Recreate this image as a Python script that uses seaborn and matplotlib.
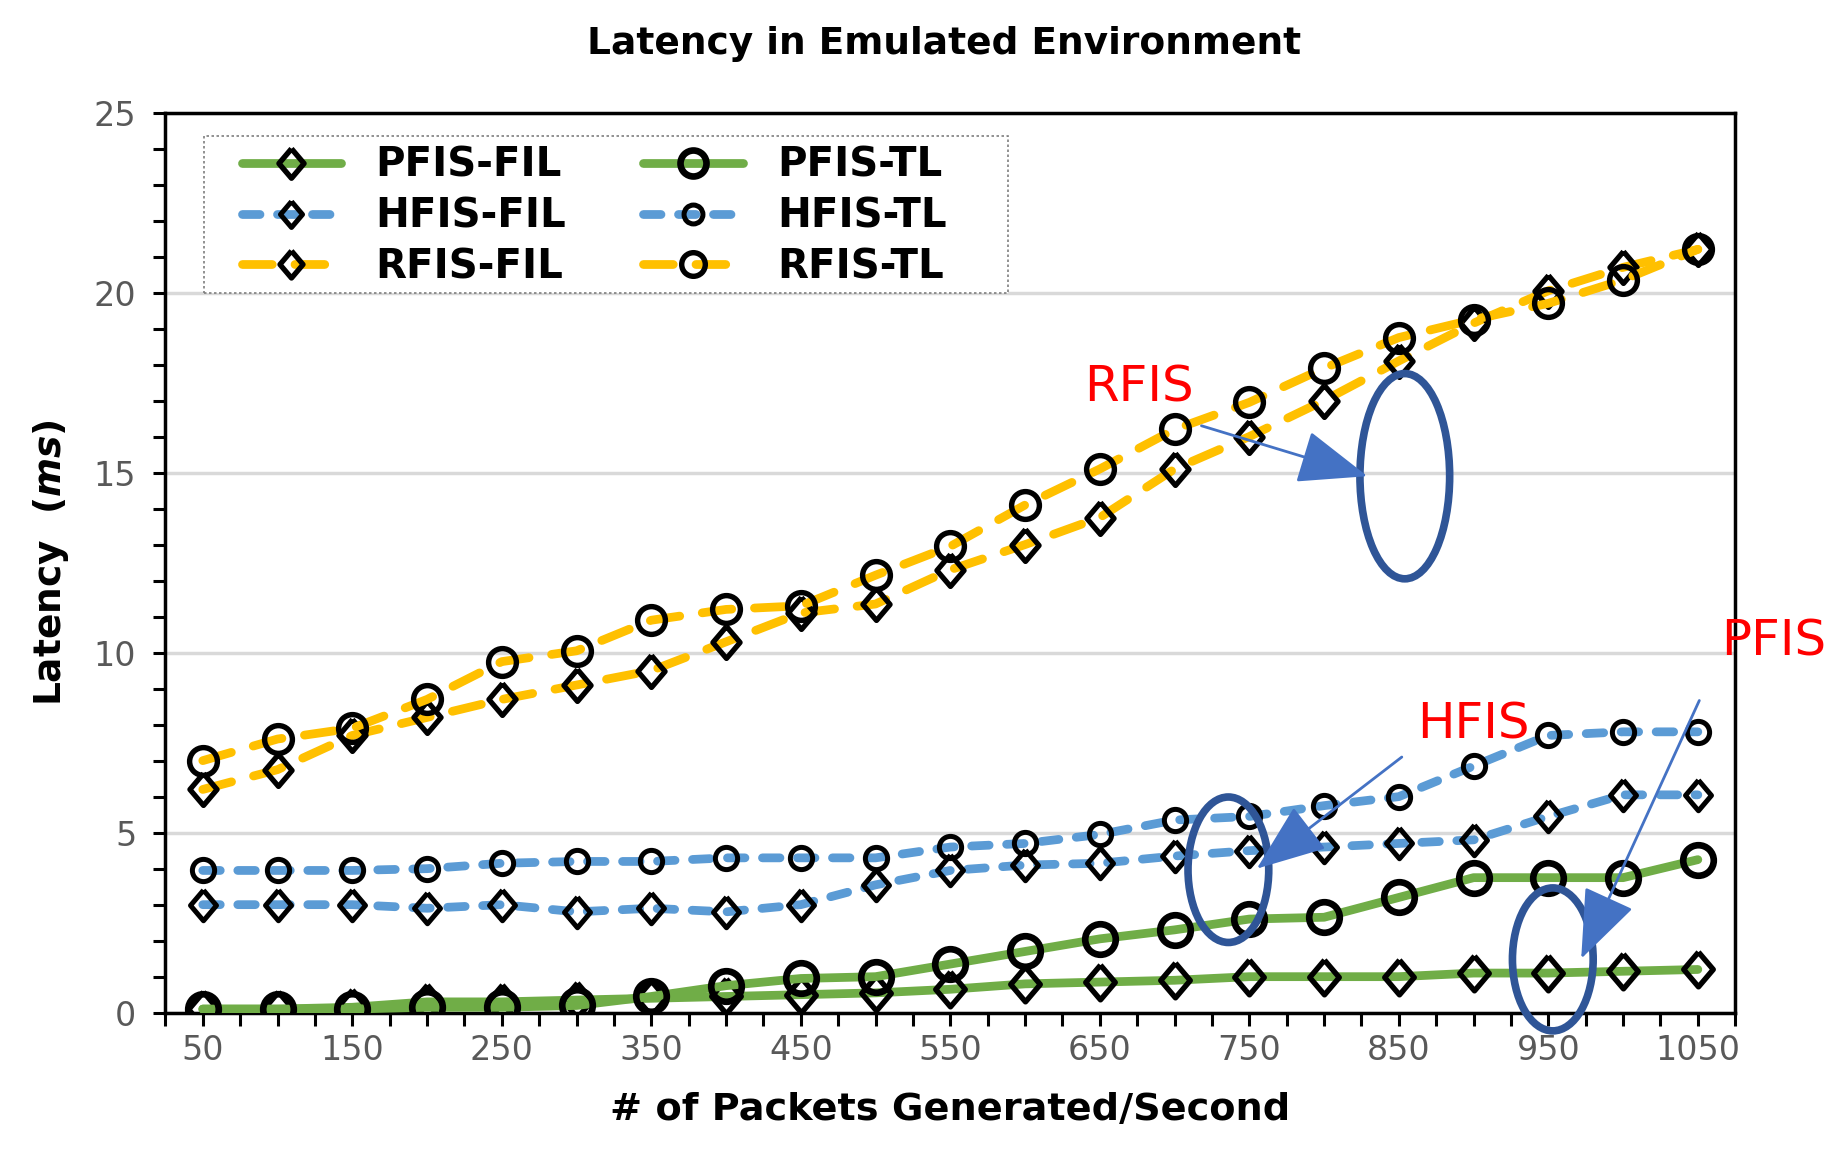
import numpy as np
import pandas as pd
import matplotlib
matplotlib.use("Agg")
import matplotlib.pyplot as plt
import seaborn as sns
from matplotlib.patches import Ellipse, Rectangle
from matplotlib.ticker import FixedLocator, MultipleLocator

# %% data
packets = [50, 100, 150, 200, 250, 300, 350, 400, 450, 500, 550,
           600, 650, 700, 750, 800, 850, 900, 950, 1000, 1050]

pfis_fil = [0.1, 0.1, 0.15, 0.3, 0.3, 0.35, 0.4, 0.45, 0.5, 0.55, 0.65,
            0.8, 0.85, 0.9, 1.0, 1.0, 1.0, 1.1, 1.1, 1.15, 1.2]
pfis_tl = [0.1, 0.1, 0.1, 0.15, 0.15, 0.2, 0.45, 0.75, 0.95, 1.0, 1.35,
           1.7, 2.05, 2.3, 2.6, 2.65, 3.2, 3.75, 3.75, 3.75, 4.25]
hfis_fil = [3.0, 3.0, 3.0, 2.9, 3.0, 2.8, 2.9, 2.8, 3.0, 3.55, 3.95,
            4.1, 4.15, 4.35, 4.5, 4.6, 4.7, 4.8, 5.45, 6.05, 6.05]
hfis_tl = [3.95, 3.95, 3.95, 4.0, 4.15, 4.2, 4.2, 4.3, 4.3, 4.3, 4.6,
           4.7, 4.95, 5.35, 5.45, 5.75, 6.0, 6.85, 7.7, 7.8, 7.8]
rfis_fil = [6.2, 6.75, 7.7, 8.2, 8.7, 9.1, 9.5, 10.3, 11.1, 11.35, 12.3,
            13.0, 13.75, 15.1, 16.0, 17.0, 18.1, 19.15, 20.05, 20.7, 21.2]
rfis_tl = [7.0, 7.6, 7.9, 8.7, 9.75, 10.05, 10.9, 11.2, 11.3, 12.15, 12.95,
           14.1, 15.1, 16.2, 16.95, 17.9, 18.75, 19.25, 19.7, 20.35, 21.2]

GREEN = "#70AD47"
BLUE = "#5B9BD5"
YELLOW = "#FFC000"

# %%
sns.set_style("white")
plt.rcParams["font.family"] = ["DejaVu Sans"]
plt.rcParams["text.color"] = "black"
plt.rcParams["axes.labelcolor"] = "black"
plt.rcParams["mathtext.fontset"] = "custom"
plt.rcParams["mathtext.it"] = "DejaVu Sans:bold:italic"

fig = plt.figure(figsize=(18.44, 11.6), dpi=100)
ax = fig.add_axes([0.0897, 0.127, 0.8513, 0.776])

hfis_ls = (0, (2.0, 2.0))
rfis_ls = (0, (3.4, 2.6))
diamond = [(0, 1), (0.85, 0), (0, -1), (-0.85, 0), (0, 1)]

series = [
    ("PFIS-FIL", pfis_fil, GREEN, "-", diamond, 25, 3.9),
    ("HFIS-FIL", hfis_fil, BLUE, hfis_ls, diamond, 22, 3.6),
    ("RFIS-FIL", rfis_fil, YELLOW, rfis_ls, diamond, 23, 3.8),
    ("PFIS-TL", pfis_tl, GREEN, "-", "o", 22, 4.8),
    ("HFIS-TL", hfis_tl, BLUE, hfis_ls, "o", 16, 3.6),
    ("RFIS-TL", rfis_tl, YELLOW, rfis_ls, "o", 20, 3.9),
]

for name, vals, col, ls, mk, ms, mew in series:
    df = pd.DataFrame({"x": packets, "y": vals})
    sns.lineplot(data=df, x="x", y="y", ax=ax, color=col, linestyle=ls,
                 linewidth=6.3, marker=mk, markersize=ms, markeredgewidth=mew,
                 markeredgecolor="black", markerfacecolor="none",
                 dash_capstyle="round", label=name, zorder=3)

ax.set_xlim(25, 1075)
ax.set_ylim(0, 25)

ax.xaxis.set_major_locator(FixedLocator(list(range(50, 1051, 100))))
ax.xaxis.set_minor_locator(MultipleLocator(25))
ax.yaxis.set_major_locator(MultipleLocator(5))
ax.yaxis.set_minor_locator(MultipleLocator(1))
ax.tick_params(axis="both", which="both", direction="out", color="black",
               length=9, width=2.2, labelsize=24, labelcolor="#595959")
ax.tick_params(axis="x", which="both", bottom=True, pad=6)
ax.tick_params(axis="y", which="both", left=True, pad=12)

ax.yaxis.grid(True, color="#D9D9D9", linewidth=2.5, zorder=0)
ax.xaxis.grid(False)
ax.set_axisbelow(True)
for sp in ax.spines.values():
    sp.set_visible(True)
    sp.set_color("black")
    sp.set_linewidth(2.5)

ax.set_xlabel("# of Packets Generated/Second", fontsize=27.5,
              fontweight="bold", labelpad=18)
ax.set_ylabel(r"Latency  ($\mathit{ms}$)", fontsize=27,
              fontweight="bold", labelpad=16)
fig.text(0.512, 0.962, "Latency in Emulated Environment", fontsize=27,
         fontweight="bold", ha="center", va="center")

# legend without its own frame, dotted box drawn separately
handles, labels = ax.get_legend_handles_labels()
leg = ax.legend(handles, labels, ncol=2, loc="upper left",
                bbox_to_anchor=(0.0485, 0.963), borderaxespad=0,
                frameon=False, prop={"weight": "bold", "size": 29},
                handlelength=2.48, handletextpad=0.85, columnspacing=1.9,
                labelspacing=0.27, borderpad=0, markerscale=0.85)
leg.set_zorder(7)
ax.add_patch(Rectangle((0.0248, 0.800), 0.5122, 0.174, transform=ax.transAxes,
                       fill=True, facecolor="white", edgecolor="#7F7F7F",
                       linestyle=(0, (1.5, 1.5)), linewidth=1.2, zorder=2.5))

# annotations
for txt, x, y in [("RFIS", 676, 17.35), ("HFIS", 900, 8.0), ("PFIS", 1101, 10.3)]:
    ax.text(x, y, txt, color="red", fontsize=36, ha="center", va="center",
            clip_on=False, zorder=6)

for cx, cy, w, h in [(854, 14.9, 60, 5.7), (736, 3.97, 54, 4.04), (953, 1.48, 54, 3.97)]:
    ax.add_patch(Ellipse((cx, cy), w, h, fill=False, edgecolor="#2F5597",
                         linewidth=5.5, clip_on=False, zorder=5))

for (x0, y0), (x1, y1) in [((718, 16.3), (829, 14.9)),
                           ((852, 7.1), (755, 4.0)),
                           ((1051, 8.67), (972, 1.5))]:
    ax.annotate("", xy=(x1, y1), xytext=(x0, y0),
                arrowprops=dict(arrowstyle="-|>,head_length=2.2,head_width=0.85",
                                mutation_scale=20, color="#4472C4", lw=2,
                                shrinkA=0, shrinkB=0),
                annotation_clip=False, zorder=6)

fig.savefig("out.png", dpi=100)
